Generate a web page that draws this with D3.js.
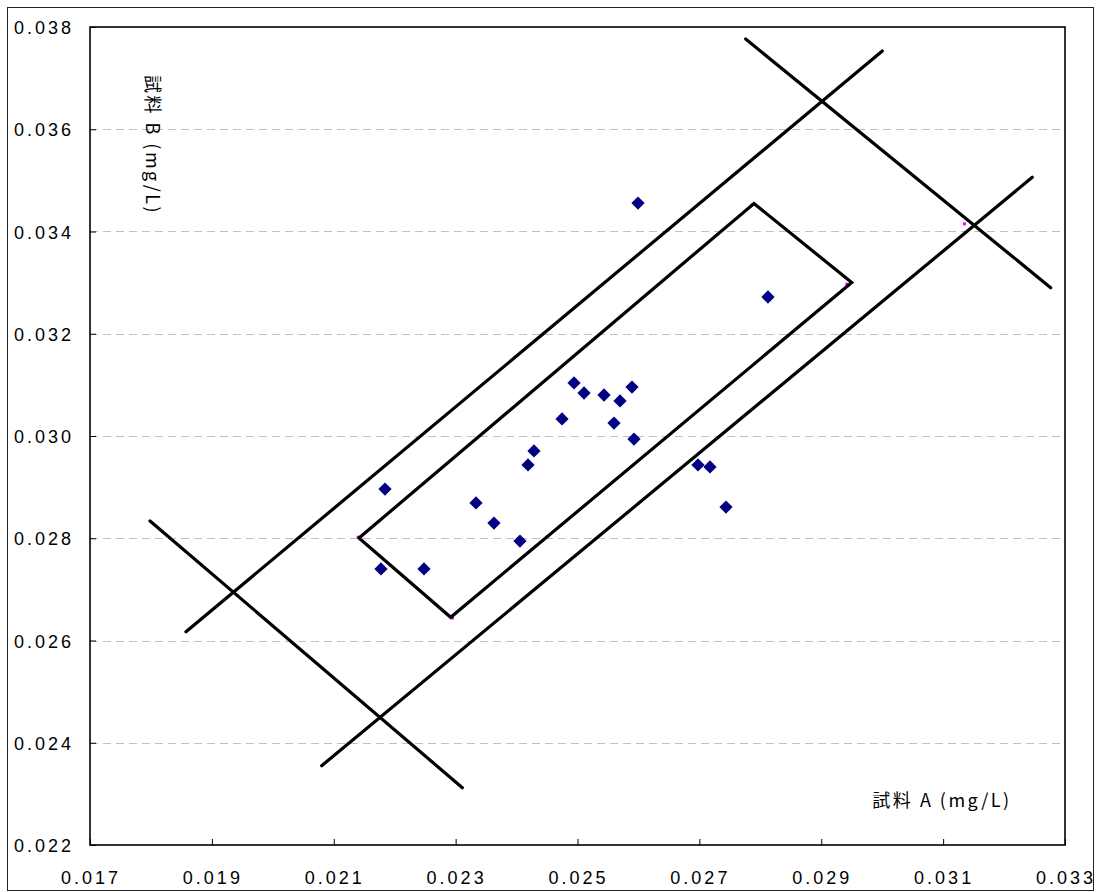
<!DOCTYPE html>
<html>
<head>
<meta charset="utf-8">
<title>Youden plot</title>
<script src="https://d3js.org/d3.v7.min.js"></script>
<style>
  body { margin: 0; background: #fff; }
  svg { display: block; font-family: "Liberation Sans", Arial, sans-serif; }
  .tick-label { font-size: 18px; letter-spacing: 3px; fill: #000; }
  .axis-title { font-family: "Noto Sans CJK JP", "Liberation Sans", sans-serif; font-size: 18px; letter-spacing: 2.5px; fill: #000; }
</style>
</head>
<body>
<svg width="1099" height="892"></svg>
<script>
// measured results: sample A (x) vs sample B (y), mg/L
var sampleA = [0.021841, 0.021775, 0.022481, 0.023334, 0.023629, 0.024056, 0.024188,
               0.024286, 0.024746, 0.024943, 0.025107, 0.025435, 0.025698, 0.025894,
               0.025599, 0.025927, 0.025993, 0.026977, 0.027174, 0.027437, 0.028126];
var sampleB = [0.028963, 0.027399, 0.027399, 0.028690, 0.028298, 0.027946, 0.029433,
               0.029707, 0.030333, 0.031037, 0.030841, 0.030802, 0.030685, 0.030958,
               0.030254, 0.029941, 0.034557, 0.029433, 0.029394, 0.028611, 0.032719];

// inner rectangle corners (closed path)
var innerBox = [[0.021414, 0.028005], [0.022919, 0.026454], [0.029500, 0.033002],
                [0.027896, 0.034548], [0.021414, 0.028005]];

// outer limit lines
var upperLine = [[0.018575, 0.026172], [0.030002, 0.037531]];
var lowerLine = [[0.020802, 0.023551], [0.032463, 0.035060]];
var crossLow  = [[0.017985, 0.028337], [0.023110, 0.023121]];
var crossHigh = [[0.027760, 0.037765], [0.032765, 0.032901]];

// tiny marker points of the limit series
var limitPts = [[0.021400, 0.028020], [0.022950, 0.026440], [0.029420, 0.032970],
                [0.027860, 0.034520], [0.019420, 0.026880], [0.031350, 0.034150]];

var xTicks = [0.017, 0.019, 0.021, 0.023, 0.025, 0.027, 0.029, 0.031, 0.033];
var yTicks = [0.022, 0.024, 0.026, 0.028, 0.030, 0.032, 0.034, 0.036, 0.038];

var svg = d3.select("svg");
var plotLeft = 90, plotRight = 1065, plotTop = 27, plotBottom = 845;

var x = d3.scaleLinear().domain([0.017, 0.033]).range([plotLeft, plotRight]);
var y = d3.scaleLinear().domain([0.022, 0.038]).range([plotBottom, plotTop]);
var fmt = d3.format(".3f");

// outer frame
svg.append("rect")
    .attr("x", 7.5).attr("y", 7.5)
    .attr("width", 1086).attr("height", 883)
    .attr("fill", "none").attr("stroke", "#222").attr("stroke-width", 1);

// horizontal grid lines
svg.append("g").selectAll("line")
    .data(yTicks.slice(1, -1))
    .enter().append("line")
    .attr("x1", plotLeft).attr("x2", plotRight)
    .attr("y1", function(d) { return Math.round(y(d)) + 0.5; })
    .attr("y2", function(d) { return Math.round(y(d)) + 0.5; })
    .attr("stroke", "#c0c0c0")
    .attr("stroke-dasharray", "8,5");

// axes with inward ticks
var xAxis = svg.append("g")
    .attr("transform", "translate(0," + plotBottom + ")")
    .call(d3.axisBottom(x).tickValues(xTicks).tickSize(-6).tickFormat(""));
xAxis.select(".domain").remove();
xAxis.selectAll("line").attr("stroke", "#000");

var yAxis = svg.append("g")
    .attr("transform", "translate(" + plotLeft + ",0)")
    .call(d3.axisLeft(y).tickValues(yTicks).tickSize(-6).tickFormat(""));
yAxis.select(".domain").remove();
yAxis.selectAll("line").attr("stroke", "#000");

// tick labels
svg.append("g").selectAll("text")
    .data(xTicks)
    .enter().append("text")
    .attr("class", "tick-label")
    .attr("x", function(d) { return x(d) + 1; })
    .attr("y", 884)
    .attr("text-anchor", "middle")
    .text(fmt);

svg.append("g").selectAll("text")
    .data(yTicks)
    .enter().append("text")
    .attr("class", "tick-label")
    .attr("x", 74)
    .attr("y", function(d) { return y(d) + 7; })
    .attr("text-anchor", "end")
    .text(fmt);

// plot area border
svg.append("rect")
    .attr("x", plotLeft).attr("y", plotTop)
    .attr("width", plotRight - plotLeft).attr("height", plotBottom - plotTop)
    .attr("fill", "none").attr("stroke", "#000").attr("stroke-width", 1.6);

// limit series markers
svg.append("g").selectAll("rect")
    .data(limitPts)
    .enter().append("rect")
    .attr("x", function(d) { return x(d[0]) - 1.5; })
    .attr("y", function(d) { return y(d[1]) - 1.5; })
    .attr("width", 3).attr("height", 3)
    .attr("fill", "#ff00ff");

// limit lines
var line = d3.line()
    .x(function(d) { return x(d[0]); })
    .y(function(d) { return y(d[1]); });

svg.append("g").selectAll("path")
    .data([innerBox, upperLine, lowerLine, crossLow, crossHigh])
    .enter().append("path")
    .attr("d", line)
    .attr("fill", "none")
    .attr("stroke", "#000")
    .attr("stroke-width", 3.2)
    .attr("stroke-linejoin", "miter")
    .attr("stroke-linecap", "round");

// data points (diamonds)
var diamond = d3.symbol().type(d3.symbolSquare).size(88);
svg.append("g").selectAll("path")
    .data(sampleA)
    .enter().append("path")
    .attr("d", diamond)
    .attr("transform", function(d, i) {
        return "translate(" + x(d) + "," + y(sampleB[i]) + ") rotate(45)";
    })
    .attr("fill", "#000080");

// axis titles
svg.append("text")
    .attr("class", "axis-title")
    .attr("x", 942).attr("y", 807)
    .attr("text-anchor", "middle")
    .text("試料 A (mg/L)");

svg.append("text")
    .attr("class", "axis-title")
    .attr("transform", "translate(146,145) rotate(90)")
    .attr("text-anchor", "middle")
    .text("試料 B (mg/L)");
</script>
</body>
</html>
